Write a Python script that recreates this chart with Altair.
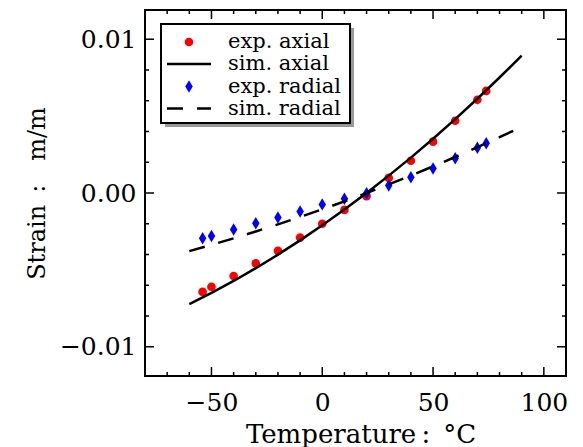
import altair as alt
import pandas as pd

# ---------------- data ----------------
temps_exp = [-54, -50, -40, -30, -20, -10, 0, 10, 20, 30, 40, 50, 60, 70, 74]
axial_exp = [-0.00643, -0.0061, -0.0054, -0.00458, -0.00376, -0.0029, -0.0020,
             -0.0011, -0.0002, 0.00098, 0.0021, 0.00334, 0.0047, 0.00606, 0.00664]
radial_exp = [-0.00295, -0.0028, -0.00237, -0.00197, -0.0016, -0.0012, -0.00074,
              -0.00037, -0.00002, 0.00048, 0.00102, 0.0016, 0.00226, 0.00295, 0.00324]

temps_sim = [-60, -50, -40, -30, -20, -10, 0, 10, 20, 30, 40, 50, 60, 70, 80, 90]
axial_sim = [-0.00723, -0.0065, -0.00572, -0.00489, -0.00401, -0.00308, -0.0021,
             -0.00108, 0.0, 0.00113, 0.0023, 0.00353, 0.0048, 0.00613, 0.00751, 0.00893]
radial_sim = [-0.00378, -0.00337, -0.00295, -0.0025, -0.00204, -0.00156, -0.00106,
              -0.00054, 0.0, 0.00056, 0.00113, 0.00173, 0.00234, 0.00298, 0.00363, 0.0043]

x_major = [-50, 0, 50, 100]
x_minor = [-70, -60, -40, -30, -20, -10, 10, 20, 30, 40, 60, 70, 80, 90]
y_major = [-0.01, 0.0, 0.01]
y_minor = [-0.008, -0.006, -0.004, -0.002, 0.002, 0.004, 0.006, 0.008]

legend_labels = ["exp. axial", "sim. axial", "exp. radial", "sim. radial"]

x_title = "Temperature\u2009:\u2002°C"
y_title = "Strain\u2002:\u2003m/m"

# ---------------- layout ----------------
W, H = 421, 366
FONT = "DejaVu Serif"
MAJ, MIN = 9, 4

xs = alt.Scale(domain=[-80, 110], nice=False, zero=False)
ys = alt.Scale(domain=[-0.0119, 0.0119], nice=False, zero=False)

exp_df = pd.DataFrame({"T": temps_exp, "axial": axial_exp, "radial": radial_exp})
sim_df = pd.DataFrame({"T": temps_sim, "axial": axial_sim, "radial": radial_sim})

x_axis = alt.Axis(values=x_major, format="d", ticks=False, domain=False, grid=False,
                  labelPadding=14, labelFontSize=25, labelFont=FONT, labelColor="black",
                  labelFlush=False,
                  title=x_title, titleFont=FONT, titleFontSize=26, titleFontWeight="normal",
                  titleColor="black", titleX=W / 2 + 5, titleY=66, titleAlign="center",
                  titleBaseline="alphabetic")
y_axis = alt.Axis(values=y_major, format=".2f", ticks=False, domain=False, grid=False,
                  labelPadding=9, labelFontSize=25, labelFont=FONT, labelColor="black",
                  labelFlush=False,
                  title=y_title, titleFont=FONT, titleFontSize=24, titleFontWeight="normal",
                  titleColor="black", titleX=-101, titleY=H / 2, titleAngle=270,
                  titleAlign="center", titleBaseline="alphabetic")


def X(field):
    return alt.X(field, scale=xs, axis=x_axis)


def Y(field):
    return alt.Y(field, scale=ys, axis=y_axis)


DIAMOND = "M0,-1L0.6,0L0,1L-0.6,0Z"

pts_axial = alt.Chart(exp_df).mark_point(shape="circle", filled=True, size=75,
                                         color="#ff0000", opacity=1).encode(
    x=X("T:Q"), y=Y("axial:Q"))
pts_radial = alt.Chart(exp_df).mark_point(shape=DIAMOND, filled=True, size=156,
                                          color="#0000ff", opacity=1).encode(
    x=X("T:Q"), y=Y("radial:Q"))
line_axial = alt.Chart(sim_df).mark_line(color="black", strokeWidth=2.5).encode(
    x=X("T:Q"), y=Y("axial:Q"))
line_radial = alt.Chart(sim_df).mark_line(color="black", strokeWidth=2.5,
                                          strokeDash=[16, 14]).encode(
    x=X("T:Q"), y=Y("radial:Q"))

# ---------------- inward ticks on all four sides ----------------
tick_layers = []
for vals, ln in [(x_major, MAJ), (x_minor, MIN)]:
    df = pd.DataFrame({"T": vals})
    for y0, y1 in [(H, H - ln), (0, ln)]:
        tick_layers.append(alt.Chart(df).mark_rule(color="black", strokeWidth=1.5).encode(
            x=X("T:Q"), y=alt.value(y0), y2=alt.value(y1)))
for vals, ln in [(y_major, MAJ), (y_minor, MIN)]:
    df = pd.DataFrame({"axial": vals})
    for x0, x1 in [(0, ln), (W, W - ln)]:
        tick_layers.append(alt.Chart(df).mark_rule(color="black", strokeWidth=1.5).encode(
            y=Y("axial:Q"), x=alt.value(x0), x2=alt.value(x1)))

# ---------------- legend (box with drop shadow) ----------------
one = pd.DataFrame({"a": [0]})
bx0, bx1, by0, by1 = 16, 205, 14, 113
rows = [32, 54, 76.5, 98.5]
leg = []
leg.append(alt.Chart(one).mark_rect(color="#999999").encode(
    x=alt.value(bx0 + 4), x2=alt.value(bx1 + 4), y=alt.value(by0 + 4), y2=alt.value(by1 + 4)))
leg.append(alt.Chart(one).mark_rect(fill="white", stroke="black", strokeWidth=2).encode(
    x=alt.value(bx0), x2=alt.value(bx1), y=alt.value(by0), y2=alt.value(by1)))
leg.append(alt.Chart(one).mark_point(shape="circle", filled=True, size=75, color="#ff0000",
                                     opacity=1).encode(x=alt.value(44), y=alt.value(rows[0])))
leg.append(alt.Chart(one).mark_rule(color="black", strokeWidth=2.5).encode(
    x=alt.value(22), x2=alt.value(66), y=alt.value(rows[1])))
leg.append(alt.Chart(one).mark_point(shape=DIAMOND, filled=True, size=156, color="#0000ff",
                                     opacity=1).encode(x=alt.value(44), y=alt.value(rows[2])))
leg.append(alt.Chart(one).mark_rule(color="black", strokeWidth=2.5, strokeDash=[16, 14]).encode(
    x=alt.value(22), x2=alt.value(66), y=alt.value(rows[3])))
for lab, ry in zip(legend_labels, rows):
    leg.append(alt.Chart(one).mark_text(align="left", baseline="middle", font=FONT,
                                        fontSize=21, color="black").encode(
        x=alt.value(83), y=alt.value(ry), text=alt.value(lab)))

chart = alt.layer(
    pts_axial, pts_radial, line_axial, line_radial, *tick_layers, *leg
).properties(
    width=W, height=H,
    background="white",
    autosize=alt.AutoSizeParams(type="none"),
    padding={"left": 145, "top": 10, "right": 17, "bottom": 71},
).configure_view(stroke="black", strokeWidth=2)

chart.save("out.html", embed_options={"renderer": "svg", "actions": False})
